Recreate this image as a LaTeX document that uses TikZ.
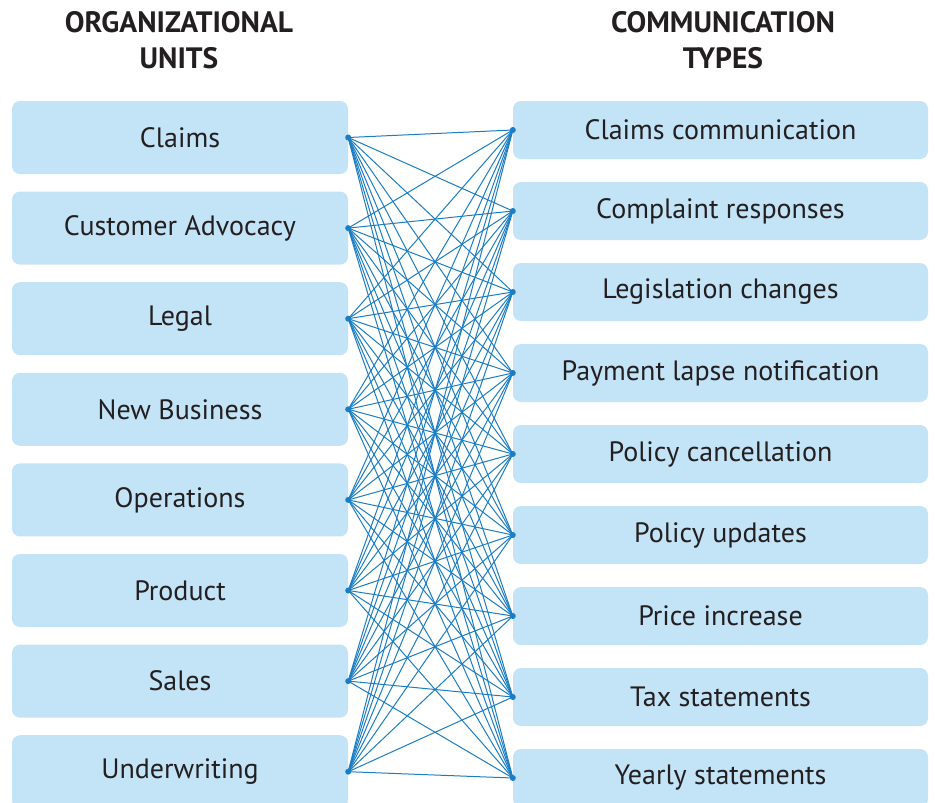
\documentclass[tikz,border=0pt]{standalone}
\usepackage{fontspec}
\setmainfont{PT Sans}
\definecolor{boxfill}{HTML}{C3E3F6}
\definecolor{linkblue}{HTML}{1B7DC3}
\definecolor{inkgray}{HTML}{231F20}

\begin{document}
\begin{tikzpicture}[x=1pt, y=-1pt, font=\fontsize{28}{32}\selectfont, text=inkgray,
    unitbox/.style={fill=boxfill, rounded corners=8pt, inner sep=0pt,
                    minimum width=336pt, minimum height=73pt},
    typebox/.style={fill=boxfill, rounded corners=8pt, inner sep=0pt,
                    minimum width=415pt, minimum height=58pt},
    link/.style={linkblue, line width=1pt},
    heading/.style={font=\fontsize{29.5}{36}\selectfont\bfseries, align=center}]
  \useasboundingbox (0,0) rectangle (935,803);

  % --- Column headings ---
  \node[heading] (unitshead) at (179, 40) {ORGANIZATIONAL\\UNITS};
  \node[heading] (typeshead) at (723, 40) {COMMUNICATION\\TYPES};

  % --- Left column: organizational units ---
  \foreach \name [count=\i] in {Claims, Customer Advocacy, Legal, New Business,
                                Operations, Product, Sales, Underwriting}
    \node[unitbox] (unit\i) at (180, {137.5 + 90.6*(\i-1)}) {\name};

  % --- Right column: communication types ---
  \foreach \name [count=\j] in {Claims communication, Complaint responses,
                                Legislation changes, Payment lapse notification,
                                Policy cancellation, Policy updates, Price increase,
                                Tax statements, Yearly statements}
    \node[typebox] (type\j) at (720.5, {130 + 81*(\j-1)}) {\name};

  % --- Every unit linked to every type ---
  \foreach \i in {1,...,8}
    \foreach \j in {1,...,9}
      \draw[link] (unit\i.east) -- (type\j.west);

  % End dots
  \foreach \i in {1,...,8}
    \fill[linkblue] (unit\i.east) circle (3pt);
  \foreach \j in {1,...,9}
    \fill[linkblue] (type\j.west) circle (3pt);
\end{tikzpicture}
\end{document}
